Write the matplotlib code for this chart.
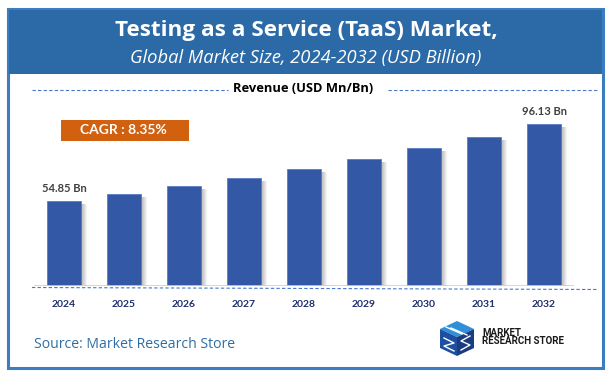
import matplotlib
matplotlib.use("Agg")
import matplotlib.pyplot as plt
from matplotlib.patches import Rectangle, Polygon
from matplotlib.lines import Line2D

# ---- data ----
years = ["2024", "2025", "2026", "2027", "2028", "2029", "2030", "2031", "2032"]
revenue = [54.85, 58.44, 62.73, 67.02, 72.00, 77.37, 83.26, 89.16, 96.13]
labelled = {0: "54.85 Bn", 8: "96.13 Bn"}
title = "Testing as a Service (TaaS) Market,"
subtitle = "Global Market Size, 2024-2032 (USD Billion)"
axis_label = "Revenue (USD Mn/Bn)"
cagr_text = "CAGR : 8.35%"
source_text = "Source: Market Research Store"

W, H = 613, 378
fig = plt.figure(figsize=(W / 100, H / 100), dpi=100)
fig.patch.set_facecolor("white")

def fx(px):
    return px / W

def fy(py):
    return 1 - py / H

FONT = "Lato"
FONT2 = "Open Sans"
BAR = "#3358A6"
HEAD = "#2B6AA6"
BORDER = "#3A7DC0"

# outer frame and header band
fig.add_artist(Rectangle((fx(8), fy(368)), fx(603) - fx(8), fy(9) - fy(368),
                         transform=fig.transFigure, facecolor="white",
                         edgecolor=BORDER, linewidth=2.2, zorder=0))
fig.add_artist(Rectangle((fx(9), fy(74)), fx(602) - fx(9), fy(10) - fy(74),
                         transform=fig.transFigure, facecolor=HEAD,
                         edgecolor="none", zorder=1))
fig.text(fx(306.5), fy(30.5), title, ha="center", va="center", color="white",
         fontsize=16.2, fontweight="bold", family=FONT2, zorder=2)
fig.text(fx(306), fy(58.5), subtitle, ha="center", va="center", color="white",
         fontsize=13.2, fontstyle="italic", family=FONT2, zorder=2)

# revenue label with dashed lines
fig.text(fx(303), fy(89), axis_label, ha="center", va="center", color="black",
         fontsize=9.3, fontweight="bold", family=FONT2)
for x0, x1 in [(32, 228), (388, 598)]:
    fig.add_artist(Line2D([fx(x0), fx(x1)], [fy(90), fy(90)],
                          transform=fig.transFigure, color="#4A78C8",
                          linewidth=0.8, linestyle=(0, (3, 2))))

# bottom dashed line
fig.add_artist(Line2D([fx(32), fx(598)], [fy(287.5), fy(289.5)],
                      transform=fig.transFigure, color="#4A78C8",
                      linewidth=0.8, linestyle=(0, (3, 2))))

# CAGR box
fig.add_artist(Rectangle((fx(61), fy(141)), fx(189) - fx(61), fy(120) - fy(141),
                         transform=fig.transFigure, facecolor="#D1600F",
                         edgecolor="none"))
fig.text(fx(123), fy(130.5), cagr_text, ha="center", va="center", color="white",
         fontsize=10, fontweight="bold", family=FONT)

# ---- bar chart axes ----
ax_left, ax_right = 34, 574
ax_bottom, ax_top = 285.7, 100
ax = fig.add_axes([fx(ax_left), fy(ax_bottom), fx(ax_right) - fx(ax_left),
                   fy(ax_top) - fy(ax_bottom)])
ax.set_facecolor("none")
ax.set_xlim(-0.5, len(years) - 0.5)
ax.set_ylim(9.44, 109.0)
xs = list(range(len(years)))
bw = 34 / 60.0
px = 1 / 60.0

# shadows
for k in range(6):
    alpha = 0.45 * (1 - k / 6)
    ax.bar([x + bw / 2 + (k + 0.5) * px for x in xs],
           [v - 1.6 for v in revenue], width=px, color="#606060",
           alpha=alpha, linewidth=0, zorder=2)
ax.bar(xs, revenue, width=bw, color=BAR, edgecolor="#5A7CC4",
       linewidth=0.6, zorder=3)
ax.axhline(9.44, color="#D0D0D0", linewidth=1.2, zorder=4)

for i, lab in labelled.items():
    ax.text(xs[i], revenue[i] + 3.8, lab, ha="center", va="bottom",
            color="#404040", fontsize=8, fontweight="bold", family=FONT)

for s in ax.spines.values():
    s.set_visible(False)
ax.set_yticks([])
ax.set_xticks(xs)
ax.set_xticklabels(years, fontsize=7.5, fontweight="bold", color="#1F2E6E",
                   family=FONT)
ax.tick_params(axis="x", length=0, pad=10)

# source
fig.text(fx(34), fy(345), source_text, ha="left", va="center",
         color="#2E6DA4", fontsize=10.1, family=FONT2)

# logo
def poly(pts, color):
    fig.add_artist(Polygon([(fx(a), fy(b)) for a, b in pts], closed=True,
                           transform=fig.transFigure, facecolor=color,
                           edgecolor="none"))

poly([(440, 329), (457, 321), (474, 329), (457, 337)], "#2F8FD8")
poly([(440, 329), (457, 337), (457, 356), (440, 348)], "#1F4FA0")
poly([(457, 337), (474, 329), (474, 348), (457, 356)], "#1A3C80")
for d in (0, 5):
    fig.add_artist(Line2D([fx(446 + d), fx(462 + d)], [fy(327 + d * 0.2), fy(334 + d * 0.2)],
                          transform=fig.transFigure, color="white", linewidth=1.0))
fig.add_artist(Line2D([fx(444), fx(454), fx(444), fx(454)],
                      [fy(338), fy(343), fy(346), fy(351)],
                      transform=fig.transFigure, color="white", linewidth=1.0))
fig.add_artist(Line2D([fx(470), fx(461), fx(470), fx(461)],
                      [fy(336), fy(341), fy(345), fy(350)],
                      transform=fig.transFigure, color="white", linewidth=1.0))
fig.text(fx(482), fy(332.5), "MARKET", ha="left", va="center", color="#1A1A1A",
         fontsize=7, fontweight="bold", family="Roboto")
fig.text(fx(482), fy(341), "RESEARCH STORE", ha="left", va="center",
         color="#1A1A1A", fontsize=7, fontweight="bold", family="Roboto")

fig.savefig("out.png", dpi=100)
